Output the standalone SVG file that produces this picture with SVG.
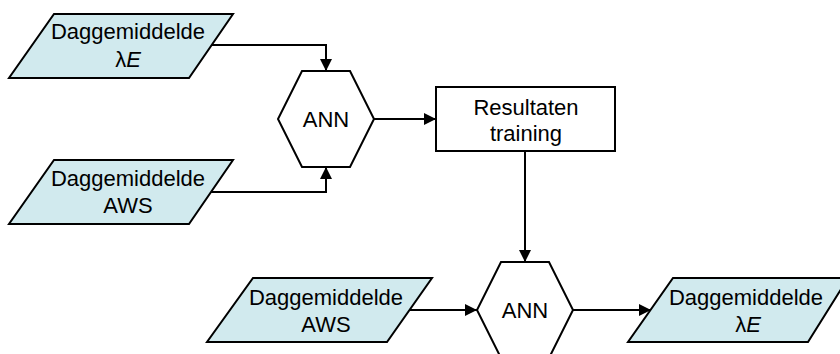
<svg xmlns="http://www.w3.org/2000/svg" width="840" height="354" viewBox="0 0 840 354">
<defs>
<marker id="arr" viewBox="0 0 12 12" refX="12" refY="6" markerWidth="12" markerHeight="12" markerUnits="userSpaceOnUse" orient="auto">
<path d="M0,0 L12,6 L0,12 Z" fill="#000"/>
</marker>
<style>
.para{fill:#D1EAEE;stroke:#000;stroke-width:2;stroke-linejoin:miter}
.box{fill:#fff;stroke:#000;stroke-width:2}
.conn{fill:none;stroke:#000;stroke-width:2;marker-end:url(#arr)}
text{font-family:"Liberation Sans",Arial,sans-serif;font-size:22px;fill:#000;text-anchor:middle}
.it{font-style:italic}
</style>
</defs>
<rect width="840" height="354" fill="#fff"/>
<g id="connectors">
<path class="conn" d="M210,45 H326 V71"/>
<path class="conn" d="M210,192 H326 V167"/>
<path class="conn" d="M374,119 H436"/>
<path class="conn" d="M525,151 V262"/>
<path class="conn" d="M410,310 H477"/>
<path class="conn" d="M573,310 H651"/>
</g>
<g id="in_lambdaE">
<polygon class="para" points="54,14 233,14 189,78 9,78"/>
<text x="128" y="39">Daggemiddelde</text>
<text x="128" y="67"><tspan>λ</tspan><tspan class="it">E</tspan></text>
</g>
<g id="in_AWS_1">
<polygon class="para" points="54,160 233,160 189,224 9,224"/>
<text x="128" y="186">Daggemiddelde</text>
<text x="128" y="213">AWS</text>
</g>
<g id="ann_1">
<polygon class="box" points="302,71 350,71 374,119 350,167 302,167 278,119"/>
<text x="326" y="127">ANN</text>
</g>
<g id="resultaten">
<rect class="box" x="436" y="87" width="179" height="64"/>
<text x="526" y="115">Resultaten</text>
<text x="526" y="141">training</text>
</g>
<g id="in_AWS_2">
<polygon class="para" points="253,278 432,278 387,342 207,342"/>
<text x="326" y="305">Daggemiddelde</text>
<text x="326" y="332">AWS</text>
</g>
<g id="ann_2">
<polygon class="box" points="501,262 549,262 573,310 549,358 501,358 477,310"/>
<text x="525" y="318">ANN</text>
</g>
<g id="out_lambdaE">
<polygon class="para" points="673,278 848,278 808,342 628,342"/>
<text x="746" y="305">Daggemiddelde</text>
<text x="748" y="332"><tspan>λ</tspan><tspan class="it">E</tspan></text>
</g>
</svg>
